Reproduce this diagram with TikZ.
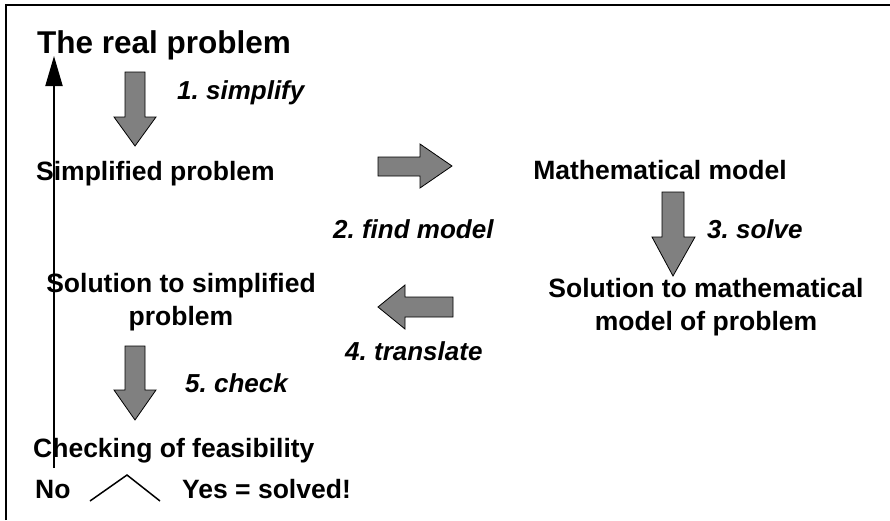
\documentclass[tikz,border=0pt]{standalone}
\usepackage{fontspec}
\setmainfont{Liberation Sans}
\usetikzlibrary{arrows.meta}
\frenchspacing
\tikzset{
  lbl/.style={inner sep=0pt, anchor=base west, font=\bfseries\frenchspacing\fontsize{26.5}{30}\selectfont},
  clbl/.style={inner sep=0pt, anchor=base, font=\bfseries\frenchspacing\fontsize{26.5}{30}\selectfont},
  steplbl/.style={inner sep=0pt, anchor=base west, font=\bfseries\itshape\frenchspacing\fontsize{26}{30}\selectfont},
  blockarrow/.style={fill={rgb,255:red,128;green,128;blue,128}, draw=black, line width=0.8pt, line join=miter},
  frameline/.style={line width=2.2pt},
  loopline/.style={line width=2pt, -{Triangle[width=17pt,length=30pt]}},
}
\begin{document}
\begin{tikzpicture}[x=1pt,y=-1pt]
\useasboundingbox (0,0) rectangle (890,520);
% frame (left and top only)
\draw[frameline] (6,520) -- (6,5) -- (890,5);

% texts
\node[inner sep=0pt, anchor=base west, font=\bfseries\fontsize{31.5}{34}\selectfont] (real) at (37,53) {The real problem};
\node[steplbl] (s1) at (177,99) {1. simplify};
\node[lbl] (simp) at (36,180) {Simplified problem};
\node[clbl] (math) at (660,179) {Mathematical model};
\node[steplbl] (s2) at (333,238) {2. find model};
\node[steplbl] (s3) at (707,238) {3. solve};
\node[clbl] (solsa) at (181,292) {Solution to simplified};
\node[clbl] (solsb) at (181,325) {problem};
\node[clbl] (solma) at (706,297) {Solution to mathematical};
\node[clbl] (solmb) at (706,330) {model of problem};
\node[steplbl] (s4) at (345,360) {4. translate};
\node[steplbl] (s5) at (185,392) {5. check};
\node[lbl] (check) at (33,457) {Checking of feasibility};
\node[lbl] (no) at (35,498) {No};
\node[lbl] (yes) at (182,498) {Yes = solved!};

% block arrows
% 1 down
\draw[blockarrow] (125,72) -- (145,72) -- (145,117) -- (156,117) -- (135,146) -- (114,117) -- (125,117) -- cycle;
% 2 right
\draw[blockarrow] (378,157) -- (420,157) -- (420,144) -- (452,166) -- (420,188) -- (420,176) -- (378,176) -- cycle;
% 3 down
\draw[blockarrow] (662,192) -- (684,192) -- (684,237) -- (695,237) -- (673,276) -- (652,237) -- (662,237) -- cycle;
% 4 left
\draw[blockarrow] (453,297) -- (405,297) -- (405,285) -- (378,307) -- (405,329) -- (405,317) -- (453,317) -- cycle;
% 5 down
\draw[blockarrow] (125,346) -- (145,346) -- (145,390) -- (156,390) -- (135,420) -- (114,390) -- (125,390) -- cycle;

% feedback line
\coordinate (loopstart) at (54,468);
\coordinate (looptip) at (54,56);
\draw[loopline] (loopstart) -- (looptip);

% caret between No and Yes
\coordinate (ca) at (90,501);
\coordinate (cb) at (127,475);
\coordinate (cc) at (160,501);
\draw[line width=1.5pt] (ca) -- (cb) -- (cc);
\end{tikzpicture}
\end{document}
